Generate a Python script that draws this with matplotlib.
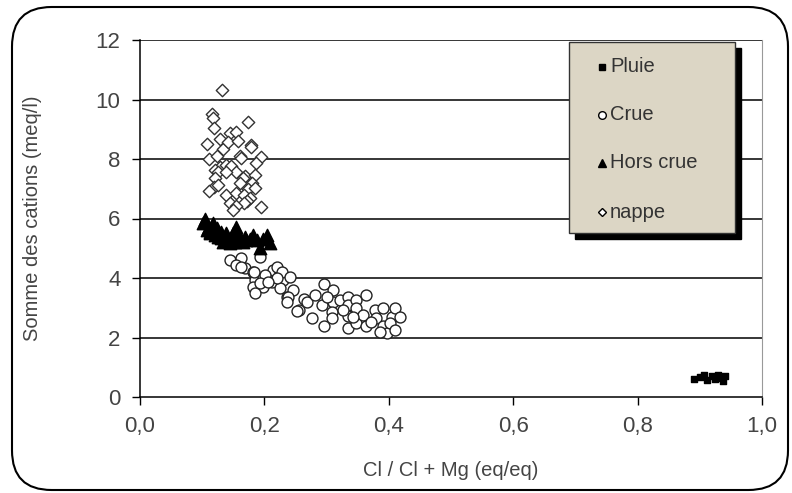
import matplotlib
matplotlib.use("Agg")
import matplotlib.pyplot as plt
from matplotlib.patches import FancyBboxPatch, Rectangle
from matplotlib.lines import Line2D

plt.rcParams['font.family'] = ['Liberation Sans', 'DejaVu Sans']

# Pluie
pluie_x = [0.890, 0.900, 0.906, 0.911, 0.919, 0.924, 0.929, 0.932, 0.938, 0.941]
pluie_y = [0.62, 0.66, 0.74, 0.58, 0.70, 0.62, 0.74, 0.64, 0.54, 0.70]

# Crue
crue_x = [0.145, 0.163, 0.193, 0.155, 0.169, 0.182, 0.185, 0.198, 0.214, 0.225,
          0.212, 0.230, 0.182, 0.198, 0.185, 0.225, 0.236, 0.163, 0.183, 0.201,
          0.220, 0.228, 0.241, 0.220, 0.193, 0.206, 0.246, 0.238, 0.236, 0.255,
          0.252, 0.263, 0.268, 0.277, 0.281, 0.292, 0.296, 0.310, 0.311, 0.300,
          0.308, 0.308, 0.296, 0.322, 0.335, 0.335, 0.335, 0.335, 0.348, 0.348,
          0.348, 0.364, 0.359, 0.364, 0.378, 0.380, 0.391, 0.391, 0.397, 0.405,
          0.410, 0.418, 0.402, 0.410, 0.386, 0.372, 0.327, 0.343]
crue_y = [4.61, 4.66, 4.72, 4.44, 4.33, 4.21, 3.93, 3.99, 4.27, 4.16,
          3.88, 3.93, 3.71, 3.71, 3.49, 3.65, 3.37, 4.36, 4.21, 4.10,
          4.36, 4.21, 4.04, 3.99, 3.82, 3.88, 3.60, 3.37, 3.20, 2.92,
          2.89, 3.31, 3.20, 2.65, 3.43, 3.09, 3.80, 3.58, 3.20, 3.37,
          2.87, 2.65, 2.39, 3.26, 3.37, 3.09, 2.72, 2.31, 3.26, 2.98,
          2.48, 3.43, 2.76, 2.37, 2.92, 2.65, 2.98, 2.37, 2.14, 2.70,
          2.98, 2.70, 2.48, 2.25, 2.20, 2.53, 2.92, 2.70]

# Hors crue
hors_x = [0.105, 0.102, 0.118, 0.107, 0.123, 0.113, 0.131, 0.139, 0.155, 0.126,
          0.137, 0.147, 0.158, 0.169, 0.182, 0.204, 0.188, 0.209, 0.145, 0.166,
          0.193, 0.109, 0.121, 0.131, 0.150, 0.171, 0.177, 0.115, 0.128, 0.142,
          0.112, 0.134, 0.152, 0.163, 0.198]
hors_y = [5.97, 5.84, 5.84, 5.61, 5.67, 5.50, 5.56, 5.50, 5.70, 5.39,
          5.28, 5.33, 5.39, 5.39, 5.45, 5.45, 5.28, 5.17, 5.17, 5.22,
          5.00, 5.68, 5.45, 5.33, 5.50, 5.28, 5.30, 5.75, 5.40, 5.25,
          5.55, 5.20, 5.20, 5.30, 5.30]

# nappe
nappe_x = [0.132, 0.115, 0.117, 0.119, 0.173, 0.108, 0.128, 0.144, 0.154, 0.134,
           0.142, 0.158, 0.178, 0.178, 0.161, 0.162, 0.195, 0.186, 0.111, 0.124,
           0.129, 0.139, 0.147, 0.121, 0.126, 0.155, 0.139, 0.169, 0.165, 0.185,
           0.121, 0.180, 0.160, 0.119, 0.126, 0.111, 0.173, 0.185, 0.139, 0.154,
           0.167, 0.177, 0.172, 0.144, 0.167, 0.155, 0.194, 0.150]
nappe_y = [10.32, 9.50, 9.37, 9.03, 9.25, 8.52, 8.66, 8.86, 8.92, 8.32,
           8.58, 8.62, 8.47, 8.40, 8.10, 8.05, 8.06, 7.88, 7.99, 8.10,
           7.74, 7.80, 7.78, 7.63, 7.57, 7.55, 7.57, 7.43, 7.35, 7.46,
           7.35, 7.20, 7.18, 7.07, 7.13, 6.93, 6.98, 7.01, 6.79, 6.87,
           6.79, 6.68, 6.60, 6.51, 6.51, 6.42, 6.40, 6.29]

x_ticks = [0.0, 0.2, 0.4, 0.6, 0.8, 1.0]
y_ticks = [0, 2, 4, 6, 8, 10, 12]
legend_labels = ['Pluie', 'Crue', 'Hors crue', 'nappe']

W, H = 792, 493
fig = plt.figure(figsize=(W / 100, H / 100), dpi=100)
ax = fig.add_axes([140 / W, 1 - 397 / H, 622 / W, 357 / H])

# rounded outer border
fig.patches.append(FancyBboxPatch((12 / W, 3 / H), 776 / W, 483 / H,
                                  boxstyle="round,pad=0,rounding_size=0.05",
                                  transform=fig.transFigure, fill=False,
                                  edgecolor='black', linewidth=1.5,
                                  mutation_aspect=W / H))

for y in y_ticks[1:]:
    ax.axhline(y, color='black', linewidth=1.1, zorder=1)

ax.scatter(crue_x, crue_y, s=62, marker='o', facecolors='white',
           edgecolors='#222222', linewidths=1.0, zorder=3)
ax.scatter(nappe_x, nappe_y, s=40, marker='D', facecolors='white',
           edgecolors='#333333', linewidths=1.0, zorder=3)
ax.scatter(hors_x, hors_y, s=80, marker='^', color='black', zorder=4)
ax.scatter(pluie_x, pluie_y, s=22, marker='s', color='black', zorder=4)

ax.set_xlim(0, 1.0)
ax.set_ylim(0, 12)
ax.set_xticks(x_ticks)
ax.set_xticklabels([('%.1f' % v).replace('.', ',') for v in x_ticks])
ax.set_yticks(y_ticks)
ax.tick_params(direction='out', length=6, width=1, colors='black',
               labelsize=16, labelcolor='#444444', pad=8)
for s in ['left', 'bottom']:
    ax.spines[s].set_color('black')
    ax.spines[s].set_linewidth(1.1)
ax.spines['right'].set_color('#999999')
ax.spines['top'].set_visible(False)

ax.set_xlabel('Cl / Cl + Mg (eq/eq)', fontsize=14.5, color='#444444')
ax.set_ylabel('Somme des cations (meq/l)', fontsize=14.5, color='#444444')
ax.xaxis.set_label_coords(0.5, -0.18)
ax.yaxis.set_label_coords(-0.158, 0.5)

# legend box drawn by hand
lx0, ly0, lw, lh = 569, 42, 166, 191
fig.patches.append(Rectangle(((lx0 + 6) / W, 1 - (ly0 + lh + 6) / H), lw / W, lh / H,
                             transform=fig.transFigure, facecolor='black',
                             edgecolor='black', zorder=5))
fig.patches.append(Rectangle((lx0 / W, 1 - (ly0 + lh) / H), lw / W, lh / H,
                             transform=fig.transFigure, facecolor='#DCD6C5',
                             edgecolor='#333333', linewidth=1, zorder=6))
markers = [('s', 'black', 'black', 4), ('o', 'white', 'black', 5.5),
           ('^', 'black', 'black', 6), ('D', 'white', 'black', 4.5)]
rows = [67, 115, 163, 212]
for (m, fc, ec, ms), yy, lab in zip(markers, rows, legend_labels):
    fig.add_artist(Line2D([602 / W], [1 - yy / H], marker=m, markersize=ms,
                          markerfacecolor=fc, markeredgecolor=ec,
                          linestyle='none', transform=fig.transFigure, zorder=7))
    fig.text(610 / W, 1 - yy / H, lab, fontsize=14.5, color='#333333',
             va='center', ha='left', zorder=7)

fig.savefig('out.png', dpi=100)
